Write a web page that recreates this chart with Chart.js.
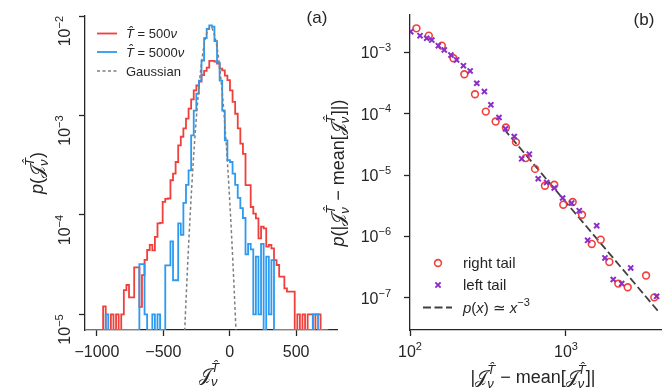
<!DOCTYPE html>
<html>
<head>
<meta charset="utf-8">
<script src="https://cdn.jsdelivr.net/npm/chart.js@4.4.1/dist/chart.umd.min.js"></script>
<style>
  html, body { margin: 0; padding: 0; background: #fff; }
  #wrap { position: relative; width: 667px; height: 388px; }
  canvas { position: absolute; left: 0; top: 0; }
</style>
</head>
<body>
<div id="wrap">
  <canvas id="histChart" width="667" height="388"></canvas>
  <canvas id="tailChart" width="667" height="388"></canvas>
</div>
<script>
// ---- panel (a): histograms of J, densities per bin (0 = empty bin) ----
const binWidth = 19.5;
const redFirstEdge = -1090;
const blueFirstEdge = -953.5;
const redDensity = [
  0, 0, 0, 0, 0, 0, 0, 1.2e-5, 0, 0,
  1.0e-5, 0, 1.0e-5, 0, 1.0e-5, 1.75e-5, 1.97e-5, 1.48e-5, 1.48e-5, 2.96e-5,
  2.96e-5, 1.19e-5, 2.48e-5, 3.52e-5, 4.43e-5, 5.0e-5, 4.4e-5, 6.0e-5, 8.2e-5, 8.3e-5,
  1.35e-4, 1.45e-4, 1.46e-4, 2.23e-4, 2.6e-4, 3.4e-4, 5.0e-4, 6.1e-4, 7.4e-4, 9.3e-4,
  1.17e-3, 1.45e-3, 1.79e-3, 2.0e-3, 2.19e-3, 2.54e-3, 2.8e-3, 3.03e-3, 3.53e-3, 3.53e-3,
  3.47e-3, 3.33e-3, 2.95e-3, 2.84e-3, 2.51e-3, 2.26e-3, 1.79e-3, 1.37e-3, 1.04e-3, 7.4e-4,
  5.2e-4, 4.1e-4, 1.99e-4, 1.99e-4, 1.2e-4, 1.03e-4, 9.2e-5, 5.8e-5, 7.6e-5, 7.3e-5,
  4.8e-5, 5.0e-5, 4.6e-5, 3.5e-5, 3.13e-5, 2.39e-5, 2.39e-5, 1.82e-5, 1.69e-5, 1.69e-5,
  1.69e-5, 0, 1.0e-5, 0, 1.0e-5, 0, 1.0e-5, 1.0e-5, 0, 1.0e-5,
  1.0e-5, 0, 0, 0
];
const blueDensity = [
  0, 1.0e-5, 0, 0, 0, 0, 0, 0, 0, 0,
  0, 0, 0, 0, 3.2e-5, 3.2e-5, 1.0e-5, 0, 0, 1.0e-5,
  0, 1.0e-5, 0, 0, 3.1e-5, 3.1e-5, 5.4e-5, 2.2e-5, 2.2e-5, 8.2e-5,
  6.3e-5, 1.32e-4, 2.0e-4, 2.8e-4, 6.3e-4, 1.12e-3, 1.66e-3, 2.24e-3, 3.55e-3, 6.0e-3,
  7.4e-3, 8.05e-3, 7.8e-3, 5.6e-3, 3.4e-3, 2.24e-3, 1.12e-3, 5.6e-4, 3.55e-4, 3.4e-4,
  2.6e-4, 2.0e-4, 1.48e-4, 1.17e-4, 9.3e-5, 4.0e-5, 5.1e-5, 4.5e-5, 1.0e-5, 3.8e-5,
  1.0e-5, 5.1e-5, 0, 3.8e-5, 1.0e-5, 3.5e-5, 0, 0, 0, 0,
  0, 0, 0, 0, 0, 0, 0, 0, 0, 0,
  0, 1.0e-5, 1.0e-5, 0, 0
];
const gaussX = [-346, -326, -306, -286, -266, -246, -226, -206, -186, -166, -146,
                -126, -106, -86, -66, -46, -26, -6, 14, 34, 54];
const gaussY = [4.1e-6, 1.72e-5, 6.2e-5, 1.92e-4, 5.1e-4, 1.17e-3, 2.32e-3, 3.93e-3, 5.73e-3, 7.18e-3, 7.75e-3,
                7.18e-3, 5.73e-3, 3.93e-3, 2.32e-3, 1.17e-3, 5.1e-4, 1.92e-4, 6.2e-5, 1.72e-5, 4.1e-6];
const histXTicks = [-1000, -500, 0, 500];
const histYTicks = [1e-5, 1e-4, 1e-3, 1e-2];
const histXMin = -1090, histXMax = 808;
const histYMin = 6.95e-6, histYMax = 1e-2;

// ---- panel (b): tails ----
const rightX = [110, 132, 160, 190, 223, 261, 306, 354, 412, 478, 552, 633, 733, 841, 961, 1104,
                1267, 1463, 1669, 1896, 2164, 2488, 3262, 3683];
const rightY = [2.45e-3, 1.86e-3, 1.28e-3, 7.98e-4, 4.38e-4, 2.07e-4, 1.08e-4, 7.44e-5, 5.94e-5, 3.44e-5,
                1.89e-5, 1.26e-5, 6.7e-6, 6.95e-6, 3.29e-6, 3.64e-6, 2.26e-6, 7.55e-7, 8.87e-7, 3.85e-7,
                1.71e-7, 1.49e-7, 2.31e-7, 1.02e-7];
const leftX = [101, 116, 128, 138, 152, 166, 183, 199, 220, 243, 268, 300, 330, 372, 410, 466, 520, 582,
               664, 752, 841, 952, 1087, 1216, 1377, 1574, 1778, 2009, 2276, 2600, 3811];
const leftY = [2.16e-3, 1.86e-3, 1.69e-3, 1.58e-3, 1.28e-3, 1.09e-3, 9.0e-4, 7.5e-4, 6.05e-4, 4.96e-4,
               3.13e-4, 2.29e-4, 1.39e-4, 8.65e-5, 5.66e-5, 4.25e-5, 1.84e-5, 2.19e-5, 8.7e-6, 7.59e-6,
               6.15e-6, 4.23e-6, 3.5e-6, 2.63e-6, 8.65e-7, 1.5e-6, 4.47e-7, 1.99e-7, 1.71e-7, 3.08e-7, 1.06e-7];
const powerLawX = [400, 4000];
const powerLawY = [5.63e-5, 5.63e-8];
const tailXTicks = [1e2, 1e3];
const tailYTicks = [1e-7, 1e-6, 1e-5, 1e-4, 1e-3];
const tailXMin = 100, tailXMax = 4066;
const tailYMin = 3.05e-8, tailYMax = 4.04e-3;

// ---- style ----
const TXT = '#262626';
const RED = '#f0403c';
const BLUE = '#2b9af0';
const GREY = '#7f7f7f';
const PURPLE = '#8a2ec8';
const SANS = '"Liberation Sans", Arial, "DejaVu Sans", sans-serif';
const SCRIPT = '"DejaVu Sans", "DejaVu Serif", serif';

function font(size, style) {
  return (style ? style + ' ' : '') + size + 'px ' + SANS;
}

// rich text: list of parts {t, f, dy} or groups {g: [...]} drawn at the same x
function partsWidth(ctx, parts) {
  let w = 0;
  for (const p of parts) {
    const items = p.g || [p];
    let adv = 0;
    for (const q of items) {
      ctx.font = q.f;
      adv = Math.max(adv, ctx.measureText(q.t).width);
    }
    w += adv;
  }
  return w;
}

function drawParts(ctx, parts, x, y, align, angle) {
  const w = partsWidth(ctx, parts);
  ctx.save();
  ctx.translate(x, y);
  if (angle) ctx.rotate(angle);
  ctx.textAlign = 'left';
  ctx.textBaseline = 'alphabetic';
  let cx = align === 'center' ? -w / 2 : (align === 'right' ? -w : 0);
  for (const p of parts) {
    const items = p.g || [p];
    let adv = 0;
    for (const q of items) {
      ctx.font = q.f;
      ctx.fillText(q.t, cx, q.dy || 0);
      adv = Math.max(adv, ctx.measureText(q.t).width);
    }
    cx += adv;
  }
  ctx.restore();
}

function powParts(v, size) {
  const e = Math.round(Math.log10(v));
  return [
    { t: '10', f: font(size) },
    { t: (e < 0 ? '\u2212' : '') + Math.abs(e), f: font(Math.round(size * 0.7)), dy: -size * 0.45 }
  ];
}

function jParts(size) {
  const s = Math.round(size * 0.7);
  return [
    { t: '\u{1D4A5}', f: size + 'px ' + SCRIPT },
    { g: [
      { t: 'T\u0302', f: font(s, 'italic'), dy: -size * 0.48 },
      { t: '\u03BD', f: font(s, 'italic'), dy: size * 0.3 }
    ] }
  ];
}

function stepPoints(firstEdge, dens) {
  const pts = dens.map((d, i) => ({ x: firstEdge + i * binWidth, y: d > 0 ? d : histYMin }));
  pts.push({ x: firstEdge + dens.length * binWidth, y: pts[pts.length - 1].y });
  return pts;
}

function fixedTicks(values) {
  return function(scale) {
    scale.ticks = values.map(v => ({ value: v }));
  };
}

const tickGrid = {
  display: true, drawOnChartArea: false, drawTicks: true,
  tickLength: 6, tickWidth: 1.3, tickColor: TXT, color: TXT
};
const axisBorder = { display: true, color: TXT, width: 1.3 };

// ---- panel (a) texts ----
const histText = {
  id: 'histText',
  afterDraw(chart) {
    const ctx = chart.ctx;
    const xs = chart.scales.x, ys = chart.scales.y;
    ctx.save();
    ctx.fillStyle = TXT;
    histXTicks.forEach(v => {
      const label = (v < 0 ? '\u2212' : '') + Math.abs(v);
      drawParts(ctx, [{ t: label, f: font(16) }], xs.getPixelForValue(v), 357, 'center');
    });
    histYTicks.forEach(v => {
      drawParts(ctx, powParts(v, 16), 70, ys.getPixelForValue(v), 'right', -Math.PI / 2);
    });
    // axis titles
    drawParts(ctx, jParts(18), 209, 381, 'center');
    const yTitle = [{ t: 'p', f: font(18, 'italic') }, { t: '(', f: font(18) }]
      .concat(jParts(18), [{ t: ')', f: font(18) }]);
    drawParts(ctx, yTitle, 43, 173, 'center', -Math.PI / 2);
    // panel letter
    drawParts(ctx, [{ t: '(a)', f: font(17) }], 317, 23, 'center');
    // legend
    const rows = [
      { parts: [{ t: 'T\u0302', f: font(13, 'italic') }, { t: ' = 500', f: font(13) }, { t: '\u03BD', f: font(13, 'italic') }], color: RED, dash: [], w: 1.8 },
      { parts: [{ t: 'T\u0302', f: font(13, 'italic') }, { t: ' = 5000', f: font(13) }, { t: '\u03BD', f: font(13, 'italic') }], color: BLUE, dash: [], w: 1.8 },
      { parts: [{ t: 'Gaussian', f: font(13) }], color: GREY, dash: [3, 2.5], w: 1.5 }
    ];
    const rowY = [33.5, 52, 71];
    rows.forEach((r, i) => {
      ctx.beginPath();
      ctx.setLineDash(r.dash);
      ctx.lineWidth = r.w;
      ctx.strokeStyle = r.color;
      ctx.moveTo(97, rowY[i]);
      ctx.lineTo(117, rowY[i]);
      ctx.stroke();
      ctx.setLineDash([]);
      drawParts(ctx, r.parts, 126, rowY[i] + 4.5, 'left');
    });
    ctx.restore();
  }
};

new Chart(document.getElementById('histChart'), {
  type: 'line',
  data: {
    datasets: [
      { label: 'T\u0302 = 500\u03BD', data: stepPoints(redFirstEdge, redDensity), borderColor: RED,
        borderWidth: 1.8, stepped: true, pointRadius: 0, order: 2 },
      { label: 'T\u0302 = 5000\u03BD', data: stepPoints(blueFirstEdge, blueDensity), borderColor: BLUE,
        borderWidth: 1.8, stepped: true, pointRadius: 0, order: 1 },
      { label: 'Gaussian', data: gaussX.map((x, i) => ({ x: x, y: gaussY[i] })), borderColor: GREY,
        borderWidth: 1.5, borderDash: [3, 2.5], pointRadius: 0, cubicInterpolationMode: 'monotone', order: 0 }
    ]
  },
  options: {
    responsive: false,
    animation: false,
    events: [],
    layout: { padding: { top: 16, right: 330, bottom: 0, left: 0 } },
    plugins: { legend: { display: false }, tooltip: { enabled: false } },
    scales: {
      x: {
        type: 'linear', min: histXMin, max: histXMax,
        afterBuildTicks: fixedTicks(histXTicks),
        afterFit(scale) { scale.height = 58; },
        ticks: { display: false },
        grid: tickGrid, border: axisBorder
      },
      y: {
        type: 'logarithmic', min: histYMin, max: histYMax,
        afterBuildTicks: fixedTicks(histYTicks),
        afterFit(scale) { scale.width = 85; },
        ticks: { display: false },
        grid: tickGrid, border: axisBorder
      }
    }
  },
  plugins: [histText]
});

// ---- panel (b) texts ----
const tailText = {
  id: 'tailText',
  afterDraw(chart) {
    const ctx = chart.ctx;
    const xs = chart.scales.x, ys = chart.scales.y;
    ctx.save();
    ctx.fillStyle = TXT;
    tailXTicks.forEach(v => {
      drawParts(ctx, powParts(v, 16), xs.getPixelForValue(v), 357, 'center');
    });
    tailYTicks.forEach(v => {
      drawParts(ctx, powParts(v, 16), 391, ys.getPixelForValue(v) + 6, 'right');
    });
    const mid = [{ t: ' \u2212 mean[', f: font(18) }];
    const xTitle = [{ t: '|', f: font(18) }].concat(jParts(18), mid, jParts(18), [{ t: ']|', f: font(18) }]);
    drawParts(ctx, xTitle, 533, 383, 'center');
    const yTitle = [{ t: 'p', f: font(18, 'italic') }, { t: '(|', f: font(18) }]
      .concat(jParts(18), mid, jParts(18), [{ t: ']|)', f: font(18) }]);
    drawParts(ctx, yTitle, 344, 173, 'center', -Math.PI / 2);
    drawParts(ctx, [{ t: '(b)', f: font(17) }], 644, 25, 'center');
    // legend
    const lx = 438;
    ctx.lineWidth = 1.6;
    ctx.strokeStyle = RED;
    ctx.beginPath();
    ctx.arc(lx, 263, 3.4, 0, Math.PI * 2);
    ctx.stroke();
    ctx.lineWidth = 2;
    ctx.strokeStyle = PURPLE;
    ctx.beginPath();
    ctx.moveTo(lx - 2.6, 285 - 2.6); ctx.lineTo(lx + 2.6, 285 + 2.6);
    ctx.moveTo(lx - 2.6, 285 + 2.6); ctx.lineTo(lx + 2.6, 285 - 2.6);
    ctx.stroke();
    ctx.lineWidth = 1.8;
    ctx.strokeStyle = '#404040';
    ctx.setLineDash([8, 3.5]);
    ctx.beginPath();
    ctx.moveTo(423, 307.5); ctx.lineTo(452, 307.5);
    ctx.stroke();
    ctx.setLineDash([]);
    drawParts(ctx, [{ t: 'right tail', f: font(15) }], 463, 268, 'left');
    drawParts(ctx, [{ t: 'left tail', f: font(15) }], 463, 290, 'left');
    drawParts(ctx, [
      { t: 'p', f: font(15, 'italic') }, { t: '(', f: font(15) }, { t: 'x', f: font(15, 'italic') },
      { t: ') \u2243 ', f: font(15) }, { t: 'x', f: font(15, 'italic') },
      { t: '\u22123', f: font(11), dy: -7 }
    ], 463, 312.5, 'left');
    ctx.restore();
  }
};

new Chart(document.getElementById('tailChart'), {
  type: 'scatter',
  data: {
    datasets: [
      { label: 'right tail', data: rightX.map((x, i) => ({ x: x, y: rightY[i] })),
        pointStyle: 'circle', pointRadius: 3.4, pointBorderWidth: 1.6,
        pointBorderColor: RED, pointBackgroundColor: 'rgba(0,0,0,0)', order: 1 },
      { label: 'left tail', data: leftX.map((x, i) => ({ x: x, y: leftY[i] })),
        pointStyle: 'crossRot', pointRadius: 3.6, pointBorderWidth: 2,
        pointBorderColor: PURPLE, order: 0 },
      { label: 'p(x) \u2243 x^-3', type: 'line', data: powerLawX.map((x, i) => ({ x: x, y: powerLawY[i] })),
        showLine: true, borderColor: '#404040', borderWidth: 1.8, borderDash: [8, 3.5],
        pointRadius: 0, order: 2 }
    ]
  },
  options: {
    responsive: false,
    animation: false,
    events: [],
    layout: { padding: { top: 15, right: 6, bottom: 0, left: 345 } },
    plugins: { legend: { display: false }, tooltip: { enabled: false } },
    scales: {
      x: {
        type: 'logarithmic', min: tailXMin, max: tailXMax,
        afterBuildTicks: fixedTicks(tailXTicks),
        afterFit(scale) { scale.height = 58; },
        ticks: { display: false },
        grid: tickGrid, border: axisBorder
      },
      y: {
        type: 'logarithmic', min: tailYMin, max: tailYMax,
        afterBuildTicks: fixedTicks(tailYTicks),
        afterFit(scale) { scale.width = 65; },
        ticks: { display: false },
        grid: tickGrid, border: axisBorder
      }
    }
  },
  plugins: [tailText]
});
</script>
</body>
</html>
